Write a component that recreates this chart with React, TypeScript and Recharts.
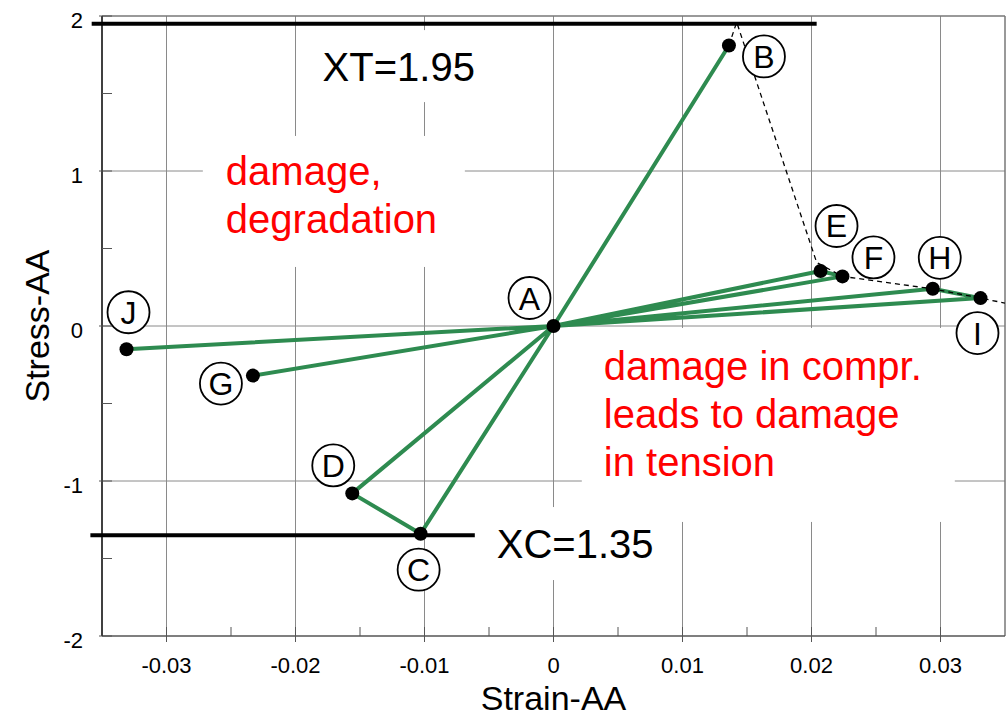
import { ComposedChart, Line, Scatter, XAxis, YAxis, ReferenceLine, ReferenceDot } from 'recharts'

// named states of the load history
const pointNames = ['A', 'B', 'C', 'D', 'E', 'F', 'G', 'H', 'I', 'J']
const pointStrain = [0, 0.0136, -0.0103, -0.0156, 0.0207, 0.0224, -0.0233, 0.0294, 0.0331, -0.0331]
const pointStress = [0, 1.81, -1.34, -1.08, 0.355, 0.32, -0.32, 0.24, 0.18, -0.15]

// order in which the load history visits the points
const loadPath = ['A', 'B', 'A', 'C', 'D', 'A', 'E', 'F', 'A', 'G', 'A', 'H', 'I', 'A', 'J']

// damage envelope (dashed)
const envelopeStrain = [0.0136, 0.0142, 0.0204, 0.0224, 0.0294, 0.0331, 0.035]
const envelopeStress = [1.81, 1.96, 0.41, 0.32, 0.24, 0.18, 0.148]

// strength limits
const tensileStrength = 1.95
const compressiveStrength = -1.35
const xtSpan = [-0.0358, 0.0204]
const xcSpan = [-0.0359, -0.0061]

const xMajor = [-0.03, -0.02, -0.01, 0, 0.01, 0.02, 0.03]
const xMinor = [-0.025, -0.015, -0.005, 0.005, 0.015, 0.025]
const yMajor = [-2, -1, 0, 1, 2]
const yMinor = [-1.5, -0.5, 0.5, 1.5]

const noteText: Record<string, string[]> = {
  xt: ['XT=1.95'],
  damage: ['damage,', 'degradation'],
  compr: ['damage in compr.', 'leads to damage', 'in tension'],
  xc: ['XC=1.35'],
}

// where the notes sit (data coords of first baseline) and their white box in px
const notes = [
  { key: 'xt', strain: -0.0179, stress: 1.58, color: '#000', box: [-13, -51, 180, 72] },
  { key: 'damage', strain: -0.0254, stress: 0.91, color: '#ff0000', box: [-23, -49, 262, 131] },
  { key: 'compr', strain: 0.0039, stress: -0.348, color: '#ff0000', box: [-22, -52, 373, 194] },
  { key: 'xc', strain: -0.0044, stress: -1.497, color: '#000', box: [-12, -51, 190, 73] },
]

const labelOffset: Record<string, [number, number]> = {
  A: [-24, -28], B: [35, 11], C: [-2, 36], D: [-19, -28], E: [16, -45],
  F: [31, -19], G: [-32, 8], H: [7, -31], I: [-3, 35], J: [2, -37],
}

const FONT = '"Liberation Sans", Arial, sans-serif'
const GREEN = '#2e8b50'

const points = pointNames.map((name, i) => ({ name, strain: pointStrain[i], stress: pointStress[i] }))
const pathData = loadPath.map((n) => points[pointNames.indexOf(n)])
const envelopeData = envelopeStrain.map((s, i) => ({ strain: s, stress: envelopeStress[i] }))

// eslint-disable-next-line @typescript-eslint/no-explicit-any
function XTick({ x, y, payload }: any) {
  const major = xMajor.includes(payload.value)
  return (
    <g>
      <line x1={x} x2={x} y1={major ? y + 6 : y} y2={y - 9} stroke="#555" strokeWidth={1} />
      {major && (
        <text x={x} y={y + 37} textAnchor="middle" fontSize={22} fill="#000" fontFamily={FONT}>
          {String(payload.value)}
        </text>
      )}
    </g>
  )
}

// eslint-disable-next-line @typescript-eslint/no-explicit-any
function YTick({ x, y, payload }: any) {
  const major = yMajor.includes(payload.value)
  return (
    <g>
      <line x1={major ? x - 3 : x} x2={x + 10} y1={y} y2={y} stroke="#555" strokeWidth={1} />
      {major && (
        <text x={x - 19} y={y + 12} textAnchor="end" fontSize={22} fill="#000" fontFamily={FONT}>
          {String(payload.value)}
        </text>
      )}
    </g>
  )
}

// eslint-disable-next-line @typescript-eslint/no-explicit-any
function PointMark({ cx, cy, payload }: any) {
  const [dx, dy] = labelOffset[payload.name]
  return (
    <g>
      <circle cx={cx} cy={cy} r={7} fill="#000" />
      <circle cx={cx + dx} cy={cy + dy} r={21} fill="#fff" stroke="#000" strokeWidth={1.8} />
      <text x={cx + dx} y={cy + dy + 11.5} textAnchor="middle" fontSize={32} fill="#000" fontFamily={FONT}>
        {payload.name}
      </text>
    </g>
  )
}

// eslint-disable-next-line @typescript-eslint/no-explicit-any
const noteShape = (note: (typeof notes)[number]) => (p: any) => {
  const [bx, by, bw, bh] = note.box
  return (
    <g>
      <rect x={p.cx + bx} y={p.cy + by} width={bw} height={bh} fill="#fff" />
      {noteText[note.key].map((t, i) => (
        <text key={t} x={p.cx} y={p.cy + i * 48} fontSize={40} fill={note.color} fontFamily={FONT}>
          {t}
        </text>
      ))}
    </g>
  )
}

export default function App() {
  return (
    <div style={{ fontFamily: FONT }}>
      <style>{'body{margin:0}'}</style>
      <ComposedChart width={1008} height={716} margin={{ top: 16, right: 3, left: 0, bottom: 0 }}>
        <XAxis
          type="number"
          dataKey="strain"
          domain={[-0.035, 0.035]}
          ticks={[...xMajor, ...xMinor].sort((a, b) => a - b)}
          allowDataOverflow
          height={80}
          tickSize={0}
          tickMargin={0}
          tickLine={false}
          tick={<XTick />}
          axisLine={{ stroke: '#555', strokeWidth: 1.5 }}
          label={{ value: 'Strain-AA', position: 'insideBottom', offset: 6, fontSize: 34, fill: '#000' }}
        />
        <YAxis
          type="number"
          dataKey="stress"
          domain={[-2, 2]}
          ticks={[...yMajor, ...yMinor].sort((a, b) => a - b)}
          allowDataOverflow
          width={102}
          tickSize={0}
          tickMargin={0}
          tickLine={false}
          tick={<YTick />}
          axisLine={{ stroke: '#000', strokeWidth: 1.5 }}
          label={{ value: 'Stress-AA', angle: -90, position: 'insideLeft', offset: 37, fontSize: 34, fill: '#000', style: { textAnchor: 'middle' } }}
        />
        {xMajor.map((v) => (
          <ReferenceLine key={'gx' + v} x={v} stroke="#8a8a8a" strokeWidth={1} />
        ))}
        {yMajor.slice(1, -1).map((v) => (
          <ReferenceLine key={'gy' + v} y={v} stroke="#8a8a8a" strokeWidth={1} />
        ))}
        <ReferenceLine y={2} stroke="#777" strokeWidth={1.5} />
        <ReferenceLine x={0.035} stroke="#777" strokeWidth={1.5} />
        {notes.map((n) => (
          <ReferenceDot key={n.key} x={n.strain} y={n.stress} r={1} ifOverflow="visible" shape={noteShape(n)} />
        ))}
        <ReferenceLine
          segment={[{ x: xtSpan[0], y: tensileStrength }, { x: xtSpan[1], y: tensileStrength }]}
          stroke="#000"
          strokeWidth={4}
          ifOverflow="visible"
        />
        <ReferenceLine
          segment={[{ x: xcSpan[0], y: compressiveStrength }, { x: xcSpan[1], y: compressiveStrength }]}
          stroke="#000"
          strokeWidth={4}
          ifOverflow="visible"
        />
        <Line
          data={pathData}
          dataKey="stress"
          type="linear"
          stroke={GREEN}
          strokeWidth={4}
          strokeLinejoin="round"
          dot={false}
          activeDot={false}
          isAnimationActive={false}
        />
        <Line
          data={envelopeData}
          dataKey="stress"
          type="linear"
          stroke="#000"
          strokeWidth={1.3}
          strokeDasharray="5 4"
          dot={false}
          activeDot={false}
          isAnimationActive={false}
        />
        <Scatter data={points} dataKey="stress" shape={(p: any) => <PointMark {...p} />} isAnimationActive={false} />
      </ComposedChart>
    </div>
  )
}
